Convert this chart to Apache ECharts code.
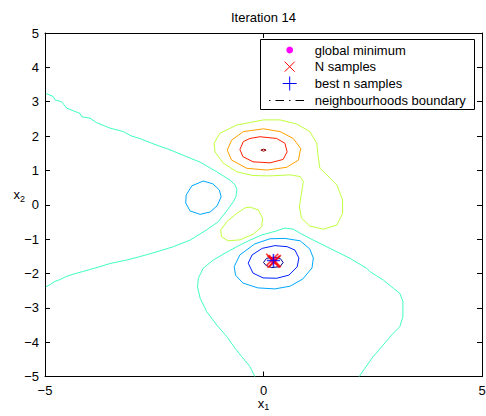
<!DOCTYPE html>
<html>
<head>
<meta charset="utf-8">
<script src="https://cdn.jsdelivr.net/npm/echarts@6/dist/echarts.min.js"></script>
<style>
  html, body { margin: 0; padding: 0; background: #ffffff; }
  #chart { width: 486px; height: 416px; }
</style>
</head>
<body>
<div id="chart"></div>
<script>
// Axis ticks
const xTicks = [-5, 0, 5];
const yTicks = [-5, -4, -3, -2, -1, 0, 1, 2, 3, 4, 5];

// Contour lines of the objective, as [x1, x2] vertices
const contourOuterLeft = [
  [-4.98, 3.24], [-4.81, 3.15], [-4.77, 3.05], [-4.62, 3.00], [-4.50, 2.81], [-4.20, 2.66],
  [-4.16, 2.56], [-3.97, 2.52], [-3.82, 2.39], [-3.51, 2.23], [-3.21, 2.13], [-3.02, 2.00],
  [-2.83, 1.93], [-2.56, 1.79], [-2.14, 1.60], [-1.76, 1.40], [-1.45, 1.24], [-1.07, 0.96],
  [-0.77, 0.72], [-0.65, 0.58], [-0.61, 0.44], [-0.63, 0.24], [-0.69, 0.09], [-0.86, -0.21],
  [-1.04, -0.50], [-1.30, -0.73], [-1.68, -1.03], [-2.06, -1.22], [-2.44, -1.37], [-2.83, -1.51],
  [-3.13, -1.61], [-3.51, -1.71], [-3.74, -1.80], [-4.12, -1.94], [-4.27, -1.99], [-4.50, -2.08],
  [-4.66, -2.18], [-4.77, -2.23], [-4.89, -2.33], [-4.98, -2.39]
];
const contourOuterLower = [
  [-0.20, -5.00], [-0.31, -4.71], [-0.50, -4.42], [-0.65, -4.18], [-0.84, -3.84], [-1.07, -3.50],
  [-1.30, -3.11], [-1.45, -2.72], [-1.51, -2.39], [-1.49, -2.14], [-1.38, -1.85], [-1.15, -1.61],
  [-0.88, -1.41], [-0.61, -1.22], [-0.31, -1.03], [-0.04, -0.88], [0.30, -0.76], [0.49, -0.68],
  [0.68, -0.71], [0.84, -0.83], [1.14, -1.03], [1.52, -1.27], [1.98, -1.56], [2.36, -1.85],
  [2.44, -1.95], [2.74, -2.19], [2.97, -2.43], [3.12, -2.58], [3.19, -2.82], [3.19, -3.26],
  [3.12, -3.55], [2.97, -3.74], [2.74, -4.08], [2.51, -4.42], [2.32, -4.76], [2.19, -5.00]
];
const contourLowLeft = [
  [-1.38, 0.69], [-1.16, 0.61], [-1.01, 0.43], [-0.97, 0.23], [-1.06, -0.03], [-1.22, -0.21],
  [-1.45, -0.28], [-1.68, -0.18], [-1.78, 0.05], [-1.77, 0.28], [-1.64, 0.55]
];
const contourLowMin = [
  [-0.67, -1.80], [-0.54, -1.46], [-0.20, -1.14], [0.15, -0.99], [0.49, -0.98], [0.84, -1.05],
  [1.06, -1.29], [1.14, -1.55], [1.11, -1.84], [0.90, -2.16], [0.61, -2.37], [0.26, -2.45],
  [-0.13, -2.42], [-0.47, -2.28], [-0.64, -2.05]
];
const contourLowerMin = [
  [-0.35, -1.70], [-0.26, -1.46], [-0.03, -1.27], [0.26, -1.19], [0.54, -1.22], [0.72, -1.32],
  [0.81, -1.55], [0.77, -1.81], [0.58, -2.05], [0.30, -2.14], [-0.01, -2.13], [-0.24, -1.99]
];
const contourLowestMin = [
  [0.00, -1.68], [0.07, -1.56], [0.22, -1.53], [0.38, -1.56], [0.45, -1.68], [0.38, -1.80],
  [0.19, -1.83], [0.06, -1.77]
];
const contourHighOuter = [
  [0.00, 2.47], [-0.61, 2.32], [-1.00, 2.08], [-1.13, 1.79], [-1.11, 1.54], [-0.92, 1.21],
  [-0.61, 0.96], [-0.24, 0.85], [0.15, 0.84], [0.61, 0.87], [0.84, 0.82], [0.91, 0.67],
  [0.87, 0.34], [0.82, -0.06], [0.87, -0.39], [1.06, -0.62], [1.37, -0.71], [1.68, -0.59],
  [1.81, -0.25], [1.81, 0.14], [1.68, 0.57], [1.41, 0.92], [1.29, 1.06], [1.25, 1.40],
  [1.22, 1.79], [1.06, 2.13], [0.76, 2.35], [0.38, 2.47]
];
const contourHighSmall = [
  [-0.31, -0.07], [-0.12, -0.15], [-0.02, -0.39], [-0.04, -0.64], [-0.23, -0.85], [-0.53, -1.02],
  [-0.81, -1.05], [-0.96, -0.93], [-0.98, -0.74], [-0.84, -0.49], [-0.61, -0.25], [-0.42, -0.09]
];
const contourHigherMax = [
  [0.00, 2.21], [0.38, 2.13], [0.68, 1.93], [0.85, 1.64], [0.80, 1.30], [0.53, 1.09],
  [0.08, 1.01], [-0.38, 1.06], [-0.73, 1.30], [-0.83, 1.59], [-0.73, 1.88], [-0.46, 2.13]
];
const contourHigherStillMax = [
  [-0.08, 1.98], [0.30, 1.93], [0.49, 1.79], [0.54, 1.54], [0.45, 1.32], [0.15, 1.22],
  [-0.24, 1.25], [-0.47, 1.40], [-0.54, 1.61], [-0.46, 1.84], [-0.31, 1.93]
];
const contourHighestMax = [
  [-0.06, 1.59], [0.00, 1.62], [0.06, 1.59], [0.00, 1.56]
];

// Samples
const globalMinimum = [[0.228, -1.626]];
const nSamples = [[0.20, -1.60], [0.26, -1.64], [0.23, -1.66]];
const bestSamples = [[0.228, -1.626]];

const FONT = 'Liberation Sans, Arial, Helvetica, sans-serif';

function closeLoop(pts) { return pts.concat([pts[0]]); }

function contourSeries(data, color, closed) {
  return {
    type: 'line',
    data: closed ? closeLoop(data) : data,
    symbol: 'none',
    showSymbol: false,
    silent: true,
    smooth: false,
    lineStyle: { color: color, width: 1 },
    z: 2
  };
}

const minusFmt = v => String(v).replace('-', '\u2212');

const chart = echarts.init(document.getElementById('chart'), null, { renderer: 'svg' });

const baseAxisLine = { show: true, onZero: false, lineStyle: { color: '#000', width: 1 } };
const baseTick = { show: true, inside: true, length: 5, lineStyle: { color: '#000', width: 1 } };

const subRich = {
  a: { fontSize: 13, fontFamily: FONT, color: '#000', verticalAlign: 'top' },
  b: { fontSize: 9, fontFamily: FONT, color: '#000', verticalAlign: 'top', padding: [6, 0, 0, 0] }
};

chart.setOption({
  animation: false,
  backgroundColor: '#ffffff',
  grid: { left: 45, right: 4, top: 33, bottom: 39.5, containLabel: false, outerBoundsMode: 'none' },
  xAxis: [
    {
      type: 'value', min: xTicks[0], max: xTicks[xTicks.length - 1], interval: 5,
      position: 'bottom',
      axisLine: baseAxisLine, axisTick: baseTick, splitLine: { show: false },
      axisLabel: { color: '#000', fontFamily: FONT, fontSize: 13, margin: 7, formatter: minusFmt },
      name: '{a|x}{b|1}', nameLocation: 'middle', nameGap: 20, nameMoveOverlap: false,
      nameTextStyle: { color: '#000', fontFamily: FONT, rich: subRich }
    },
    {
      type: 'value', min: xTicks[0], max: xTicks[xTicks.length - 1], interval: 5,
      position: 'top',
      axisLine: baseAxisLine, axisTick: baseTick, splitLine: { show: false },
      axisLabel: { show: false }
    }
  ],
  yAxis: [
    {
      type: 'value', min: yTicks[0], max: yTicks[yTicks.length - 1], interval: 1,
      position: 'left',
      axisLine: baseAxisLine, axisTick: baseTick, splitLine: { show: false },
      axisLabel: { color: '#000', fontFamily: FONT, fontSize: 13, margin: 6, formatter: minusFmt },
      name: '{a|x}{b|2}', nameLocation: 'middle', nameRotate: 0, nameGap: 20, nameMoveOverlap: false,
      nameTextStyle: { color: '#000', fontFamily: FONT, padding: [0, 0, 18, 0], rich: subRich }
    },
    {
      type: 'value', min: yTicks[0], max: yTicks[yTicks.length - 1], interval: 1,
      position: 'right',
      axisLine: baseAxisLine, axisTick: baseTick, splitLine: { show: false },
      axisLabel: { show: false }
    }
  ],
  series: [
    contourSeries(contourOuterLeft, '#40ffbf', false),
    contourSeries(contourOuterLower, '#40ffbf', false),
    contourSeries(contourLowLeft, '#00a8ff', true),
    contourSeries(contourLowMin, '#00a8ff', true),
    contourSeries(contourLowerMin, '#0020ff', true),
    contourSeries(contourLowestMin, '#00008f', true),
    contourSeries(contourHighOuter, '#bfff40', true),
    contourSeries(contourHighSmall, '#bfff40', true),
    contourSeries(contourHigherMax, '#ff9f00', true),
    contourSeries(contourHigherStillMax, '#ff1f00', true),
    contourSeries(contourHighestMax, '#8f0000', true),
    {
      name: 'global minimum', type: 'scatter', data: globalMinimum,
      symbol: 'circle', symbolSize: 7, itemStyle: { color: '#ff00ff' }, z: 3
    },
    {
      name: 'N samples', type: 'scatter', data: nSamples,
      symbol: 'path://M0,0L10,10M10,0L0,10', symbolSize: 12,
      itemStyle: { color: 'transparent', borderColor: '#ff0000', borderWidth: 1.6 }, z: 4
    },
    {
      name: 'best n samples', type: 'scatter', data: bestSamples,
      symbol: 'path://M5,0L5,10M0,5L10,5', symbolSize: 13,
      itemStyle: { color: 'transparent', borderColor: '#0000ff', borderWidth: 1.5 }, z: 5
    }
  ],
  graphic: [
    {
      type: 'text', x: 263.5, y: 17, z: 10,
      style: { text: 'Iteration 14', fill: '#000', font: '13px ' + FONT, textAlign: 'center', textVerticalAlign: 'middle' }
    },
    // Legend box
    {
      type: 'group', z: 20,
      children: [
        { type: 'rect', shape: { x: 260.5, y: 39.5, width: 214, height: 70 }, style: { fill: '#fff', stroke: '#000', lineWidth: 1 } },
        { type: 'circle', shape: { cx: 289.7, cy: 50, r: 3.4 }, style: { fill: '#ff00ff' } },
        { type: 'line', shape: { x1: 284.7, y1: 61.7, x2: 294.7, y2: 71.7 }, style: { stroke: '#ff0000', lineWidth: 1 } },
        { type: 'line', shape: { x1: 284.7, y1: 71.7, x2: 294.7, y2: 61.7 }, style: { stroke: '#ff0000', lineWidth: 1 } },
        { type: 'line', shape: { x1: 289.7, y1: 76.5, x2: 289.7, y2: 90.5 }, style: { stroke: '#0000ff', lineWidth: 1 } },
        { type: 'line', shape: { x1: 282.7, y1: 83.5, x2: 296.7, y2: 83.5 }, style: { stroke: '#0000ff', lineWidth: 1 } },
        { type: 'line', shape: { x1: 269, y1: 100.5, x2: 306, y2: 100.5 }, style: { stroke: '#000', lineWidth: 1, lineDash: [1.5, 5, 8.5, 5] } },
        { type: 'text', x: 314.7, y: 50, style: { text: 'global minimum', fill: '#000', font: '13px ' + FONT, textVerticalAlign: 'middle' } },
        { type: 'text', x: 314.7, y: 66.7, style: { text: 'N samples', fill: '#000', font: '13px ' + FONT, textVerticalAlign: 'middle' } },
        { type: 'text', x: 314.7, y: 83.3, style: { text: 'best n samples', fill: '#000', font: '13px ' + FONT, textVerticalAlign: 'middle' } },
        { type: 'text', x: 314.7, y: 100, style: { text: 'neighbourhoods boundary', fill: '#000', font: '13px ' + FONT, textVerticalAlign: 'middle' } }
      ]
    }
  ]
});
</script>
</body>
</html>
